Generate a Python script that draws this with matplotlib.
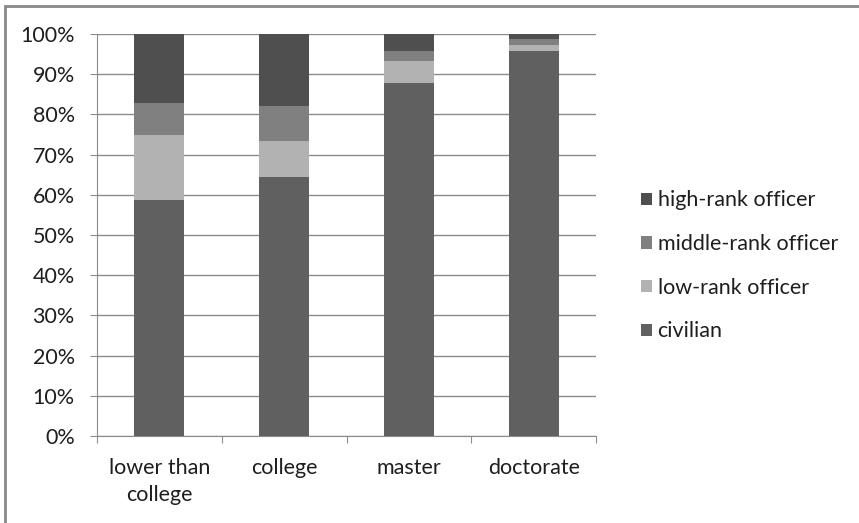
import matplotlib.pyplot as plt
from matplotlib.patches import Rectangle
from matplotlib.ticker import FixedLocator, NullFormatter

categories = ['lower than\ncollege', 'college', 'master', 'doctorate']
series = ['civilian', 'low-rank officer', 'middle-rank officer', 'high-rank officer']
civilian = [58.7, 64.5, 87.8, 95.8]
low_rank = [16.1, 8.9, 5.6, 1.5]
middle_rank = [8.0, 8.6, 2.4, 1.4]
high_rank = [17.2, 18.0, 4.2, 1.3]
colors = ['#606060', '#b2b2b2', '#808080', '#4f4f4f']

plt.rcParams['font.family'] = ['Lato', 'DejaVu Sans']
fs = 15.5

fig = plt.figure(figsize=(8.59, 5.23), dpi=100)
ax = fig.add_axes([97 / 859, 1 - 436 / 523, 499 / 859, 402 / 523])

x = range(len(categories))
bottom = [0] * len(categories)
handles = []
for name, vals, c in zip(series, [civilian, low_rank, middle_rank, high_rank], colors):
    h = ax.bar(x, vals, width=0.4, bottom=bottom, color=c, label=name, zorder=3)
    handles.append(h)
    bottom = [b + v for b, v in zip(bottom, vals)]

ax.set_xlim(-0.5, 3.5)
ax.set_ylim(0, 100)
ax.set_yticks(range(0, 101, 10))
ax.set_yticklabels([f'{v}%' for v in range(0, 101, 10)], fontsize=fs, color='#1e1e1e')
ax.yaxis.grid(True, color='#8c8c8c', linewidth=1, zorder=0)
ax.tick_params(axis='y', length=5, color='#8c8c8c', pad=11)

ax.xaxis.set_major_locator(FixedLocator([-0.5, 0.5, 1.5, 2.5, 3.5]))
ax.xaxis.set_major_formatter(NullFormatter())
ax.xaxis.set_minor_locator(FixedLocator(list(x)))
ax.set_xticklabels(categories, minor=True, fontsize=fs, color='#1e1e1e',
                   linespacing=1.4)
ax.tick_params(axis='x', which='major', length=5, color='#8c8c8c')
ax.tick_params(axis='x', which='minor', length=0, pad=16)

for s in ['top', 'right']:
    ax.spines[s].set_visible(False)
for s in ['left', 'bottom']:
    ax.spines[s].set_color('#8c8c8c')

leg = fig.legend(handles[::-1], series[::-1], loc='upper left',
                 bbox_to_anchor=(622 / 859, 1 - 171 / 523), frameon=False,
                 fontsize=fs, handlelength=0.5, handleheight=0.5,
                 handletextpad=0.25, labelspacing=1.1)
for t in leg.get_texts():
    t.set_color('#1e1e1e')

fig.patches.append(Rectangle((5 / 859, -0.1), 1.2, 1 - 6 / 523 + 0.1,
                             transform=fig.transFigure, fill=False,
                             edgecolor='#888888', linewidth=2))

fig.savefig('out.png', dpi=100)
